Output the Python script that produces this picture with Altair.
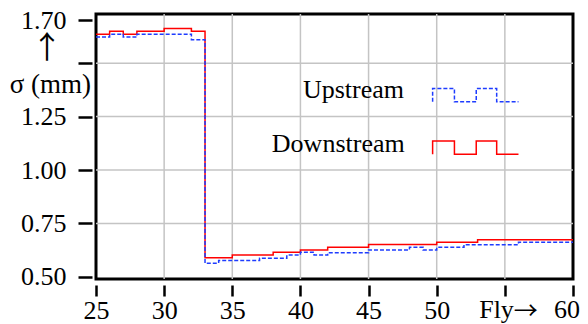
import altair as alt
import pandas as pd

# ---- data ----
bin_starts = list(range(25, 60))  # bins of width 1, from 25 to 60
downstream = [1.635, 1.649, 1.635, 1.649, 1.649, 1.662, 1.662, 1.649,
              0.590, 0.590,
              0.602, 0.602, 0.602,
              0.615, 0.615,
              0.626, 0.626,
              0.638, 0.638, 0.638,
              0.652, 0.652, 0.652, 0.652, 0.652,
              0.662, 0.662, 0.662,
              0.674, 0.674, 0.674, 0.674, 0.674, 0.674, 0.674]
upstream = [1.622, 1.635, 1.622, 1.635, 1.635, 1.635, 1.635, 1.610,
            0.564,
            0.576, 0.576, 0.576,
            0.587, 0.587,
            0.602,
            0.615,
            0.602,
            0.613, 0.613, 0.613,
            0.626, 0.626, 0.626,
            0.638,
            0.626,
            0.638, 0.638,
            0.650, 0.650, 0.650, 0.650,
            0.662, 0.662, 0.662, 0.662]
x_end = 60

x_ticks = [25, 30, 35, 40, 45, 50, 55, 60]
y_ticks = [0.50, 0.75, 1.00, 1.25, 1.50, 1.70]
grid_x = [30, 35, 40, 45, 50, 55]
grid_y = [0.75, 1.00, 1.25, 1.50]

legend_names = ["Upstream", "Downstream"]
legend_text_x = [47.6, 47.65]
legend_text_y = [1.336, 1.085]
legend_sym_x = [49.7, 49.7, 51.3, 52.9, 54.4, 56.0]
legend_up_y = [1.319, 1.381, 1.319, 1.381, 1.319, 1.319]
legend_down_y = [1.074, 1.136, 1.074, 1.136, 1.074, 1.074]

FONT = "Liberation Serif"
ARROW_FONT = "Noto Sans CJK JP"
FS = 26
W, H = 477, 265

def step_df(vals):
    return pd.DataFrame({"x": bin_starts + [x_end], "y": vals + [vals[-1]]})

X = alt.X("x:Q", scale=alt.Scale(domain=[25, 60], nice=False, zero=False),
          axis=alt.Axis(values=x_ticks, grid=False, domain=False, tickSize=11, tickWidth=2.5,
                        tickColor="black", offset=6, labelFont=FONT, labelFontSize=FS,
                        labelColor="black", labelPadding=1, labelFlush=False, labelOverlap=False,
                        labelBound=False,
                        labelExpr="(datum.value == 55 || datum.value == 60) ? '' : datum.label",
                        title=None))
Y = alt.Y("y:Q", scale=alt.Scale(domain=[0.49, 1.73], nice=False, zero=False),
          axis=alt.Axis(values=y_ticks, grid=False, domain=False, tickSize=14, tickWidth=2.5,
                        tickColor="black", offset=4, labelFont=FONT, labelFontSize=FS,
                        labelColor="black", labelPadding=12, labelOverlap=False,
                        labelExpr="datum.value == 1.5 ? '' : format(datum.value, '.2f')",
                        title=None))

gx = alt.Chart(pd.DataFrame({"x": grid_x})).mark_rule(color="#c4c4c4", strokeWidth=1.5).encode(x=X)
gy = alt.Chart(pd.DataFrame({"y": grid_y})).mark_rule(color="#c4c4c4", strokeWidth=1.5).encode(y=Y)

red = alt.Chart(step_df(downstream)).mark_line(
    interpolate="step-after", color="#ff0000", strokeWidth=1.5).encode(x=X, y=Y)
blue = alt.Chart(step_df(upstream)).mark_line(
    interpolate="step-after", color="#1e3cff", strokeWidth=1.5, strokeDash=[4, 2]).encode(x=X, y=Y)

leg_up = alt.Chart(pd.DataFrame({"x": legend_sym_x, "y": legend_up_y, "i": list(range(6))})).mark_line(
    interpolate="step-after", color="#1e3cff", strokeWidth=1.5, strokeDash=[4, 2]).encode(
    x=X, y=Y, order="i:Q")
leg_down = alt.Chart(pd.DataFrame({"x": legend_sym_x, "y": legend_down_y, "i": list(range(6))})).mark_line(
    interpolate="step-after", color="#ff0000", strokeWidth=1.5).encode(
    x=X, y=Y, order="i:Q")

leg_text = alt.Chart(pd.DataFrame({"x": legend_text_x, "y": legend_text_y, "t": legend_names})).mark_text(
    align="right", baseline="alphabetic", font=FONT, fontSize=FS, color="black").encode(
    x=X, y=Y, text="t:N")

# axis annotations
arrow_up = alt.Chart(pd.DataFrame({"t": ["\u2191"]})).mark_text(
    align="center", baseline="middle", font=ARROW_FONT, fontSize=31, color="black").encode(
    x=alt.value(-49), y=alt.value(35), text="t:N")
sigma = alt.Chart(pd.DataFrame({"t": ["\u03c3 (mm)"]})).mark_text(
    align="right", baseline="alphabetic", font=FONT, fontSize=27, color="black").encode(
    x=alt.value(-5), y=alt.value(79), text="t:N")
fly = alt.Chart(pd.DataFrame({"x": [55], "t": ["Fly"]})).mark_text(
    align="right", baseline="top", font=FONT, fontSize=FS, color="black", dx=9).encode(
    x=X, y=alt.value(H + 18), text="t:N")
arrow_r = alt.Chart(pd.DataFrame({"x": [55], "t": ["\u2192"]})).mark_text(
    align="left", baseline="middle", font=ARROW_FONT, fontSize=24, color="black", dx=9).encode(
    x=X, y=alt.value(H + 33), text="t:N")
last_lab = alt.Chart(pd.DataFrame({"x": [60], "t": ["60"]})).mark_text(
    align="right", baseline="top", font=FONT, fontSize=FS, color="black", dx=7).encode(
    x=X, y=alt.value(H + 18), text="t:N")

chart = alt.layer(gx, gy, red, blue, leg_up, leg_down, leg_text,
                  arrow_up, sigma, fly, arrow_r, last_lab).properties(
    width=W, height=H,
    padding={"left": 88, "top": 6, "right": 7, "bottom": 50},
    autosize=alt.AutoSizeParams(type="none"),
    background="white",
).configure_view(stroke="black", strokeWidth=3)

chart.save("out.html", embed_options={"renderer": "svg", "actions": False})
